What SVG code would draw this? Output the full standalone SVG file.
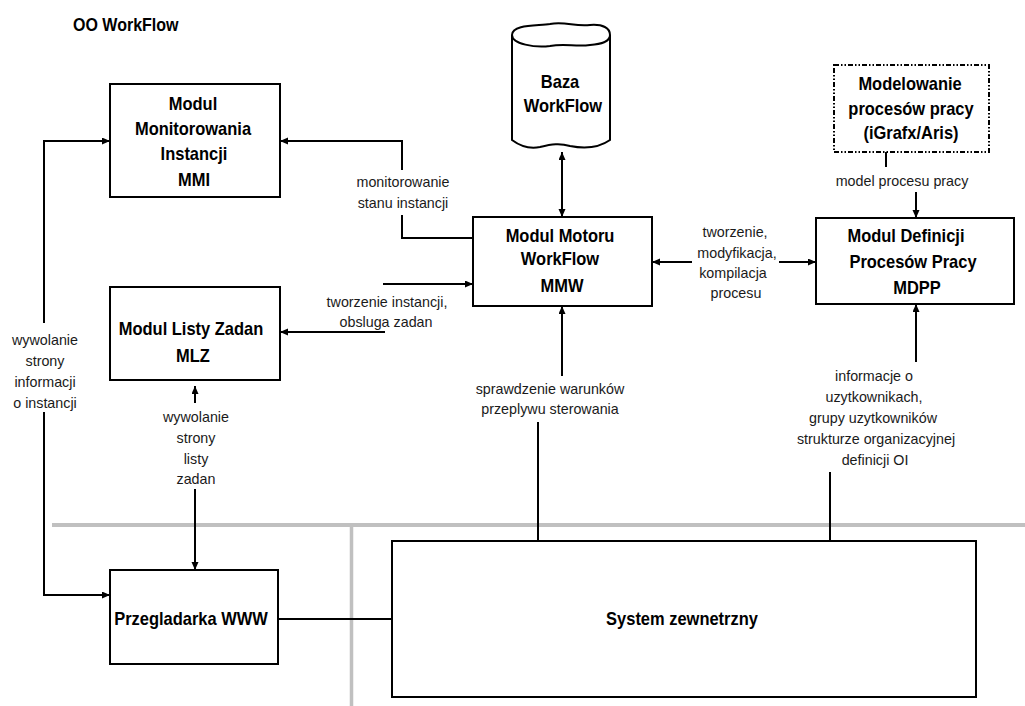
<svg xmlns="http://www.w3.org/2000/svg" width="1025" height="706" viewBox="0 0 1025 706">
<style>
.box{fill:#fff;stroke:#000;stroke-width:2}
.b{font-family:"Liberation Sans",Arial,sans-serif;font-weight:bold;font-size:18.5px;fill:#000;text-anchor:middle}
.l{font-family:"Liberation Sans",Arial,sans-serif;font-size:14.3px;fill:#1a1a1a;text-anchor:middle}
.c{fill:none;stroke:#000;stroke-width:2}
.g{fill:none;stroke:#c0c0c0}
</style>
<defs>
<marker id="ah" markerUnits="userSpaceOnUse" markerWidth="9" markerHeight="8" refX="8" refY="3.5" orient="auto-start-reverse"><path d="M0,0 L8,3.5 L0,7 Z" fill="#000"/></marker>
</defs>
<rect width="1025" height="706" fill="#fff"/>
<g id="title" transform="translate(73,0) scale(0.89,1)">
<text x="0" y="31" style="font-family:'Liberation Sans',Arial,sans-serif;font-weight:bold;font-size:18px">OO WorkFlow</text>
</g>
<g id="separators">
<path class="g" stroke-width="4" d="M52,525 H1025"/>
<path class="g" stroke-width="3.5" d="M351.5,527 V706"/>
</g>
<g id="connectors">
<path class="c" d="M44,323 V141 H110" marker-end="url(#ah)"/>
<path class="c" d="M44,412 V595 H110" marker-end="url(#ah)"/>
<path class="c" d="M473,238 H402 V215"/>
<path class="c" d="M402,170 V141 H280" marker-end="url(#ah)"/>
<path class="c" d="M562,152 V217" marker-start="url(#ah)" marker-end="url(#ah)"/>
<path class="c" d="M886,152 V167"/>
<path class="c" d="M916,192 V218" marker-end="url(#ah)"/>
<path class="c" d="M692,262 H652" marker-end="url(#ah)"/>
<path class="c" d="M779,262 H816" marker-end="url(#ah)"/>
<path class="c" d="M383,284 H473" marker-end="url(#ah)"/>
<path class="c" d="M385,332 H280" marker-end="url(#ah)"/>
<path class="c" d="M562,376 V306" marker-end="url(#ah)"/>
<path class="c" d="M538,422 V541"/>
<path class="c" d="M916,362 V304" marker-end="url(#ah)"/>
<path class="c" d="M830,472 V541"/>
<path class="c" d="M195,403 V386" marker-end="url(#ah)"/>
<path class="c" d="M195,489 V570" marker-end="url(#ah)"/>
<path class="c" d="M278,619 H392"/>
<text class="l" x="403" y="187">monitorowanie</text>
<text class="l" x="403" y="208">stanu instancji</text>
<text class="l" x="45" y="345">wywolanie</text>
<text class="l" x="45" y="366">strony</text>
<text class="l" x="45" y="387">informacji</text>
<text class="l" x="45" y="408">o instancji</text>
<text class="l" x="387" y="307">tworzenie instancji,</text>
<text class="l" x="386" y="327">obsluga zadan</text>
<text class="l" x="196" y="422">wywolanie</text>
<text class="l" x="196" y="443">strony</text>
<text class="l" x="196" y="464">listy</text>
<text class="l" x="196" y="484">zadan</text>
<text class="l" x="902" y="186">model procesu pracy</text>
<text class="l" x="735" y="237">tworzenie,</text>
<text class="l" x="737" y="258">modyfikacja,</text>
<text class="l" x="733" y="278">kompilacja</text>
<text class="l" x="736" y="298">procesu</text>
<text class="l" x="550" y="394">sprawdzenie warunków</text>
<text class="l" x="550" y="414">przeplywu sterowania</text>
<text class="l" x="874" y="381">informacje o</text>
<text class="l" x="874" y="402">uzytkownikach,</text>
<text class="l" x="873" y="423">grupy uzytkowników</text>
<text class="l" x="876" y="444">strukturze organizacyjnej</text>
<text class="l" x="875" y="465">definicji OI</text>
</g>
<g id="mmi">
<rect class="box" x="110" y="84" width="170" height="113"/>
<g transform="translate(193,0) scale(0.89,1)">
<text class="b" x="0" y="110">Modul</text>
<text class="b" x="0" y="135">Monitorowania</text>
<text class="b" x="1.1" y="160">Instancji</text>
<text class="b" x="1.1" y="186">MMI</text>
</g>
</g>
<g id="mlz">
<rect class="box" x="110" y="287" width="170" height="93"/>
<g transform="translate(192,0) scale(0.89,1)">
<text class="b" x="-1.1" y="335">Modul Listy Zadan</text>
<text class="b" x="1.1" y="362">MLZ</text>
</g>
</g>
<g id="baza">
<path class="box" d="M512,35 V140 C520,146 530,149 540,147 C552,144 560,143 570,146 C585,149 600,147 610,140 V35"/>
<path class="box" d="M512,35 C512,24 538,26 550,24 C565,21 575,27 590,25 C603,24 610,28 610,35 C610,42 601,44 590,45 C575,47 565,43 550,46 C535,48 512,44 512,35 Z"/>
<g transform="translate(562,0) scale(0.89,1)">
<text class="b" x="-2.2" y="88">Baza</text>
<text class="b" x="1.1" y="112">WorkFlow</text>
</g>
</g>
<g id="mmw">
<rect class="box" x="473" y="217" width="179" height="89"/>
<g transform="translate(561,0) scale(0.89,1)">
<text class="b" x="-1.1" y="242">Modul Motoru</text>
<text class="b" x="-1.1" y="265">WorkFlow</text>
<text class="b" x="1.1" y="292">MMW</text>
</g>
</g>
<g id="modelowanie">
<rect x="834" y="65" width="155" height="87" fill="#fff" stroke="#000" stroke-width="2" stroke-dasharray="5 2 1.5 2 1.5 2"/>
<g transform="translate(911,0) scale(0.89,1)">
<text class="b" x="-1.1" y="90">Modelowanie</text>
<text class="b" x="0" y="115">procesów pracy</text>
<text class="b" x="0" y="139">(iGrafx/Aris)</text>
</g>
</g>
<g id="mdpp">
<rect class="box" x="816" y="218" width="198" height="86"/>
<g transform="translate(913,0) scale(0.89,1)">
<text class="b" x="-7.9" y="242">Modul Definicji</text>
<text class="b" x="0" y="268">Procesów Pracy</text>
<text class="b" x="4.5" y="294">MDPP</text>
</g>
</g>
<g id="przegladarka">
<rect class="box" x="110" y="570" width="168" height="94"/>
<g transform="translate(191,0) scale(0.89,1)">
<text class="b" x="0" y="625">Przegladarka WWW</text>
</g>
</g>
<g id="system">
<rect class="box" x="392" y="541" width="584" height="156"/>
<g transform="translate(682,0) scale(0.89,1)">
<text class="b" x="0" y="625">System zewnetrzny</text>
</g>
</g>
</svg>
